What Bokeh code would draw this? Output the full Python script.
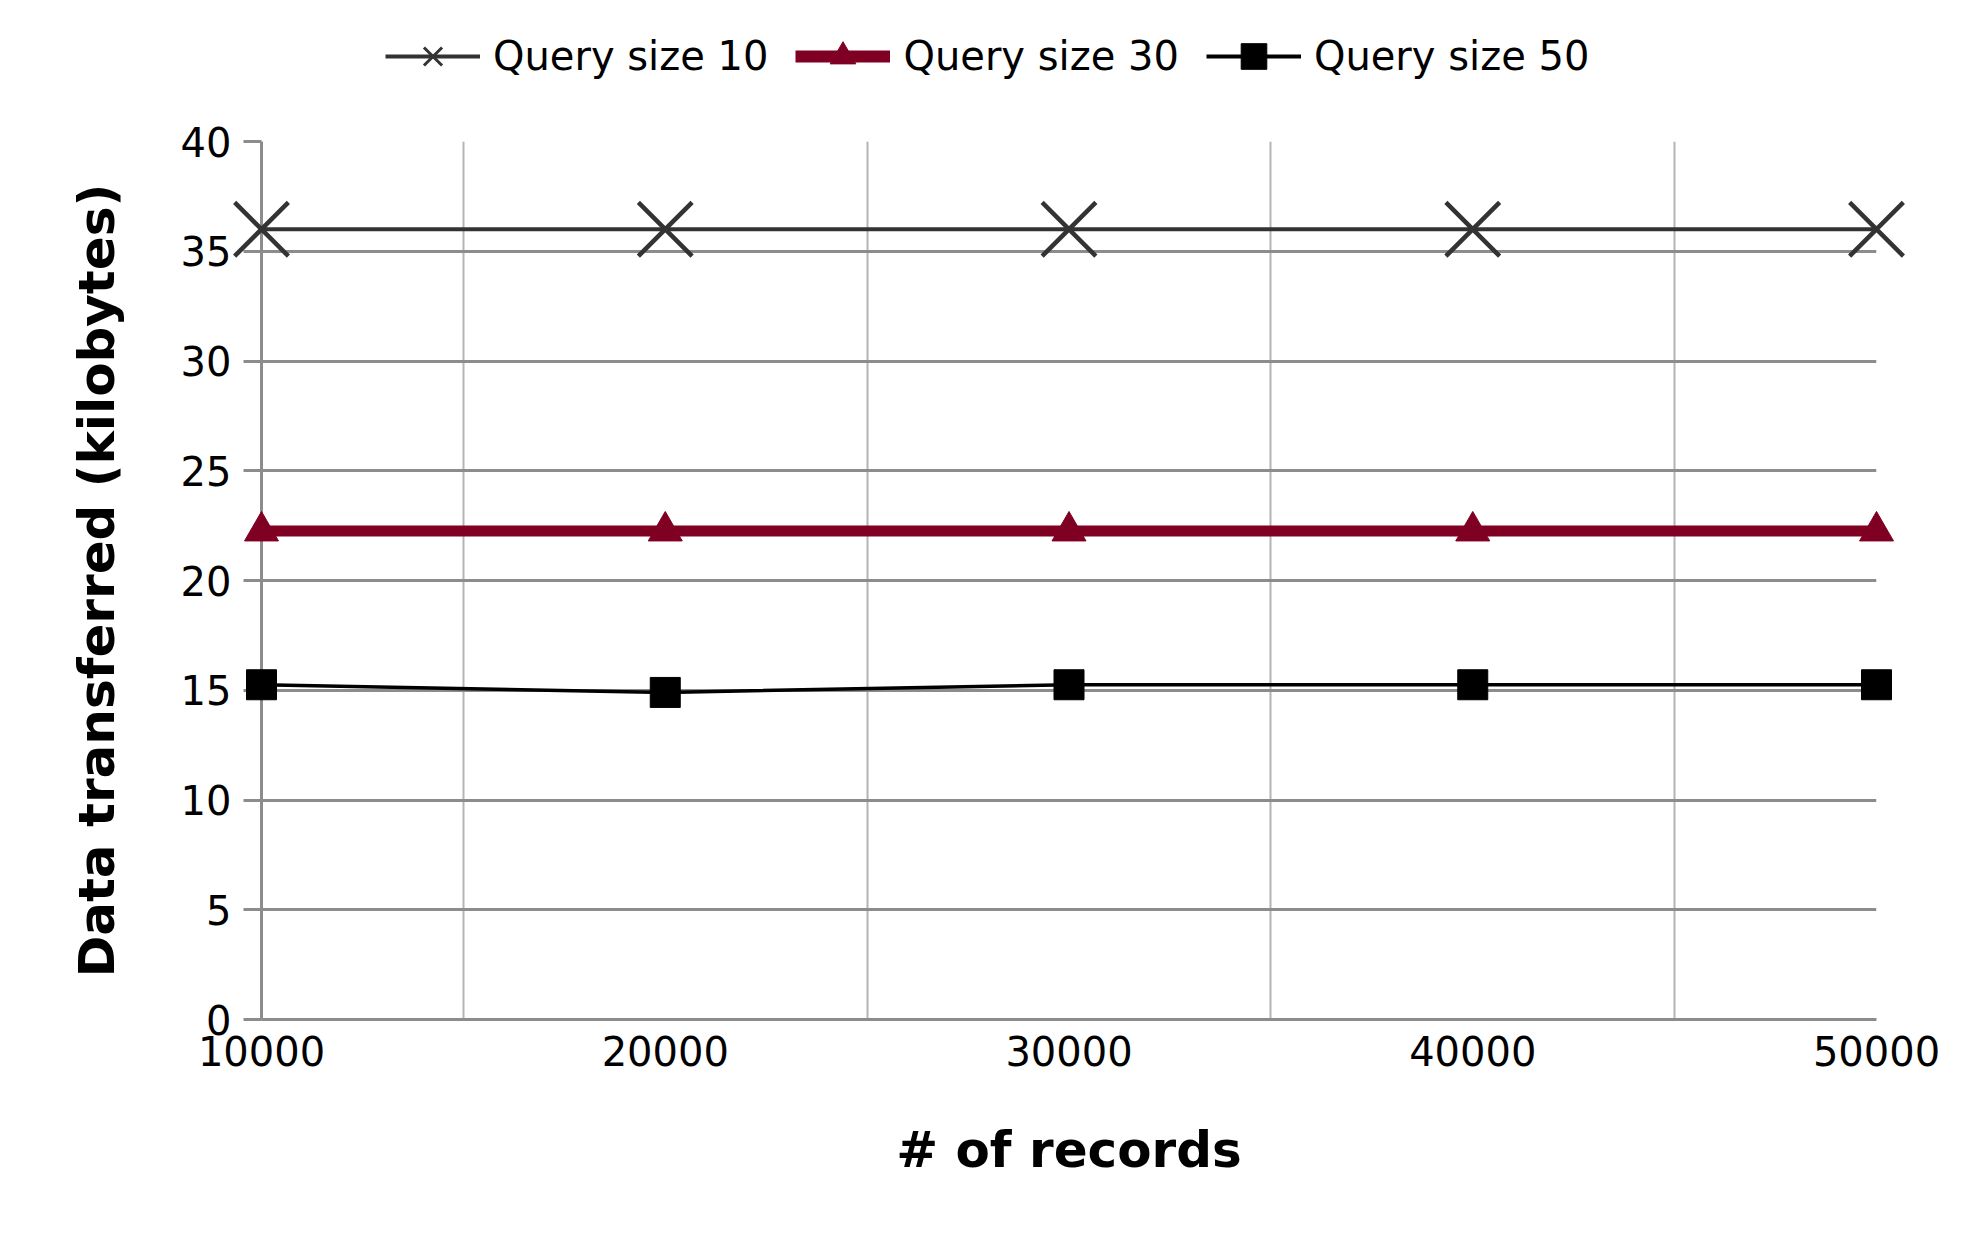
from bokeh.plotting import figure
from bokeh.layouts import column
from bokeh.models import Range1d, FixedTicker, Legend, LegendItem, BasicTickFormatter
from bokeh.embed import file_html
from bokeh.resources import INLINE

records = [10000, 20000, 30000, 40000, 50000]
q10 = [36, 36, 36, 36, 36]
q30 = [22.25, 22.25, 22.25, 22.25, 22.25]
q50 = [15.25, 14.9, 15.25, 15.25, 15.25]
yticks = [0, 5, 10, 15, 20, 25, 30, 35, 40]
xgrid_ticks = [15000, 25000, 35000, 45000]
labels = ["Query size 10", "Query size 30", "Query size 50"]

FONT = "DejaVu Sans"
GRID = "#8c8c8c"
C10, C30, C50 = "#333333", "#7f0022", "black"

W = 1963

# ---------- main chart ----------
p = figure(width=W, height=1115,
           x_range=Range1d(records[0], records[-1]), y_range=Range1d(yticks[0], yticks[-1]),
           output_backend="svg", toolbar_location=None,
           min_border_left=261, min_border_right=87, min_border_top=30, min_border_bottom=207)
p.outline_line_color = None

p.ygrid.ticker = FixedTicker(ticks=yticks)
p.ygrid.grid_line_color = GRID
p.ygrid.grid_line_width = 3
p.xgrid.ticker = FixedTicker(ticks=xgrid_ticks)
p.xgrid.grid_line_color = "#b4b4b4"
p.xgrid.grid_line_width = 2

for ax in (p.xaxis[0], p.yaxis[0]):
    ax.axis_line_color = GRID
    ax.axis_line_width = 3
    ax.major_tick_line_color = GRID
    ax.major_tick_line_width = 3
    ax.minor_tick_line_color = None
    ax.major_tick_in = 0
    ax.major_label_text_font = FONT
    ax.major_label_text_font_size = "40px"
    ax.major_label_text_color = "black"
    ax.axis_label_text_font = FONT
    ax.axis_label_text_font_size = "50px"
    ax.axis_label_text_font_style = "bold"
    ax.axis_label_text_color = "black"
    ax.formatter = BasicTickFormatter(use_scientific=False)

p.xaxis.ticker = FixedTicker(ticks=records)
p.xaxis.major_tick_out = 0
p.xaxis.major_label_standoff = 16
p.xaxis.axis_label = "# of records"
p.xaxis.axis_label_standoff = 52

p.yaxis.ticker = FixedTicker(ticks=yticks)
p.yaxis.major_tick_out = 18
p.yaxis.major_label_standoff = 12
p.yaxis.axis_label = "Data transferred (kilobytes)"
p.yaxis.axis_label_standoff = 52

p.line(records, q10, line_color=C10, line_width=4)
p.scatter(records, q10, marker="x", size=76, line_color=C10, line_width=4.5, level="overlay")
p.line(records, q30, line_color=C30, line_width=11)
p.scatter(records, q30, marker="triangle", size=34, fill_color=C30, line_color=C30, level="overlay")
p.line(records, q50, line_color=C50, line_width=3.5)
p.scatter(records, q50, marker="square", size=30, fill_color=C50, line_color=C50, level="overlay")

# ---------- legend strip (its own renderers lie outside its visible range) ----------
lg = figure(width=W, height=111, x_range=Range1d(0, 1), y_range=Range1d(0, 1),
            x_axis_type=None, y_axis_type=None,
            output_backend="svg", toolbar_location=None,
            min_border_left=0, min_border_right=0, min_border_top=0, min_border_bottom=0)
lg.outline_line_color = None
lg.grid.visible = False

k1 = lg.line(records, q10, line_color=C10, line_width=4)
m1 = lg.scatter(records, q10, marker="x", size=76, line_color=C10, line_width=3)
k2 = lg.line(records, q30, line_color=C30, line_width=12)
m2 = lg.scatter(records, q30, marker="triangle", size=34, fill_color=C30, line_color=C30)
k3 = lg.line(records, q50, line_color=C50, line_width=4)
m3 = lg.scatter(records, q50, marker="square", size=30, fill_color=C50, line_color=C50)

legend = Legend(items=[LegendItem(label=labels[0], renderers=[k1, m1]),
                       LegendItem(label=labels[1], renderers=[k2, m2]),
                       LegendItem(label=labels[2], renderers=[k3, m3])],
                orientation="horizontal", location=(124, 23),
                glyph_width=95, glyph_height=64, label_standoff=13, spacing=27,
                label_text_font=FONT, label_text_font_size="40px", label_text_color="black",
                border_line_alpha=0, background_fill_alpha=0, padding=0, margin=0)
lg.add_layout(legend, "center")

layout = column(lg, p, spacing=0)
open("out.html", "w").write(file_html(layout, INLINE))
